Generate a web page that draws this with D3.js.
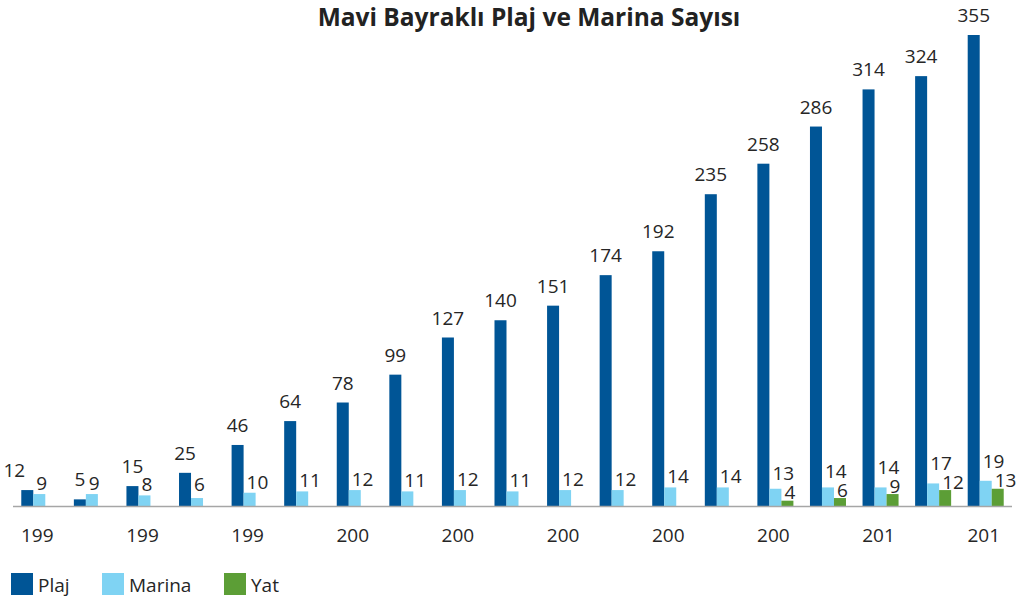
<!DOCTYPE html>
<html><head><meta charset="utf-8">
<script src="https://cdn.jsdelivr.net/npm/d3@7"></script>
<style>body{margin:0;background:#fff}svg{display:block}</style>
</head><body>
<script>
const years = ["1994","1995","1996","1997","1998","1999","2000","2001","2002","2003","2004","2005","2006","2007","2008","2009","2010","2011","2012"];
const tickLabels = ["199","199","199","200","200","200","200","200","201","201"];
const plaj   = [12,5,15,25,46,64,78,99,127,140,151,174,192,235,258,286,314,324,355];
const marina = [9,9,8,6,10,11,12,11,12,11,12,12,14,14,13,14,14,17,19];
const yat    = [null,null,null,null,null,null,null,null,null,null,null,null,null,null,4,6,9,12,13];
const seriesNames = ["Plaj","Marina","Yat"];
const colors = ["#005596","#7fd3f3","#5c9e36"];

const W=1029,H=602;
const svg=d3.select("body").append("svg").attr("width",W).attr("height",H);
const font="'Open Sans', sans-serif";
const txt="#262626";

const x0=d3.scaleBand().domain(years).range([13,1012]).padding(0);
const bw=x0.bandwidth();
const x1=d3.scaleBand().domain(seriesNames).range([0,bw]).paddingInner(0).paddingOuter(0.69);
const y=d3.scaleLinear().domain([0,355]).range([506,35]);

const data=[plaj,marina,yat];

svg.append("text").attr("x",529).attr("y",26).attr("text-anchor","middle")
  .attr("font-family",font).attr("font-weight","bold").attr("font-size",24.5).attr("fill","#222")
  .text("Mavi Bayraklı Plaj ve Marina Sayısı");

seriesNames.forEach((s,si)=>{
  const g=svg.append("g");
  years.forEach((yr,i)=>{
    const v=data[si][i];
    if(v==null) return;
    g.append("rect").attr("x",x0(yr)+x1(s)).attr("width",x1.bandwidth())
      .attr("y",y(v)).attr("height",y(0)-y(v)).attr("fill",colors[si]);
  });
});

// axis line
svg.append("line").attr("x1",13).attr("x2",1012).attr("y1",y(0)+0.5).attr("y2",y(0)+0.5)
  .attr("stroke","#a6a6a6").attr("stroke-width",1.5);

function lbl(x,yy,anchor,v){
  svg.append("text").attr("x",x).attr("y",yy).attr("text-anchor",anchor)
    .attr("font-family",font).attr("font-size",19).attr("fill",txt).text(v);
}
// data labels
years.forEach((yr,i)=>{
  const cx=s=>x0(yr)+x1(s)+x1.bandwidth()/2;
  // Plaj
  let px=cx("Plaj"); if(i===0) px-=13;
  lbl(px, y(plaj[i])-13, "middle", plaj[i]);
  // Yat
  let yatBase=null;
  if(yat[i]!=null){
    yatBase=y(yat[i])-1.5;
    lbl(cx("Yat")-3, yatBase, "start", yat[i]);
  }
  // Marina
  let mb=Math.min(y(marina[i])-4,491);
  if(yatBase!=null) mb=Math.min(mb,yatBase-19);
  lbl(cx("Marina")-3, mb, "start", marina[i]);
});

// x axis labels (every other category)
const tickYears=years.filter((d,i)=>i%2===0);
const xAxis=d3.axisBottom(x0).tickValues(tickYears).tickSize(0).tickPadding(0)
  .tickFormat((d,i)=>tickLabels[i]);
const ax=svg.append("g").attr("transform","translate(-2,528)").call(xAxis);
ax.select(".domain").remove();
ax.selectAll("text").attr("font-family",font).attr("font-size",19).attr("fill",txt).attr("dy","0.71em");

// legend
const legX=[11,102,224];
seriesNames.forEach((s,si)=>{
  svg.append("rect").attr("x",legX[si]).attr("y",573).attr("width",22).attr("height",22).attr("fill",colors[si]);
  svg.append("text").attr("x",legX[si]+27).attr("y",592).attr("font-family",font).attr("font-size",19)
    .attr("fill",txt).text(s);
});
</script>
</body></html>
